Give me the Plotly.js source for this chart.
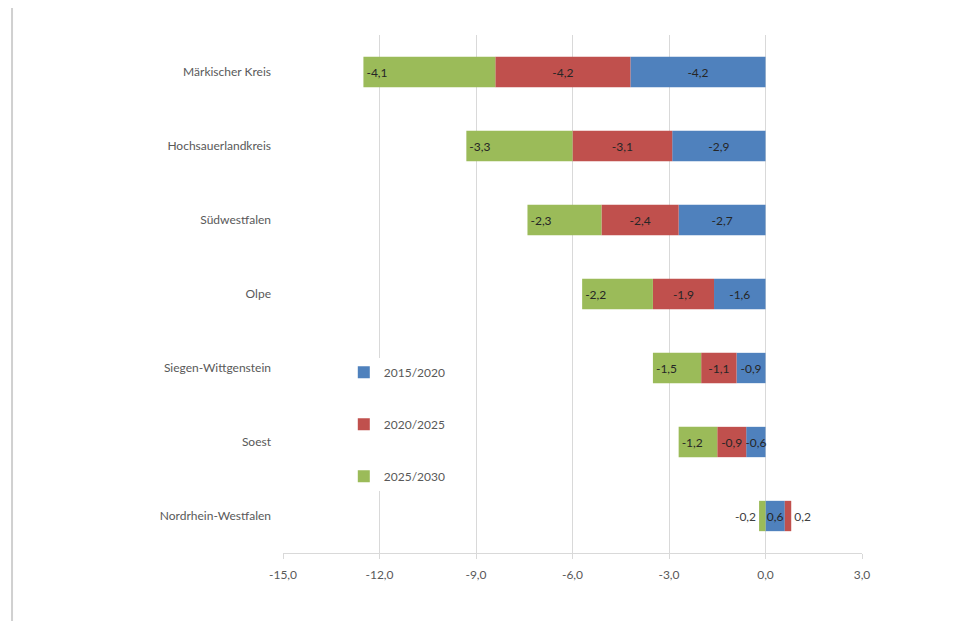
<!DOCTYPE html>
<html>
<head>
<meta charset="utf-8">
<script src="https://cdn.plot.ly/plotly-3.0.1.min.js"></script>
<style>
  html, body { margin: 0; padding: 0; background: #fff; }
  #chart { width: 958px; height: 621px; }
</style>
</head>
<body>
<div id="chart"></div>
<script>
// Data
const categories = ['Märkischer Kreis', 'Hochsauerlandkreis', 'Südwestfalen', 'Olpe', 'Siegen-Wittgenstein', 'Soest', 'Nordrhein-Westfalen'];
const seriesNames = ['2015/2020', '2020/2025', '2025/2030'];
const v2015_2020 = [-4.2, -2.9, -2.7, -1.6, -0.9, -0.6, 0.6];
const v2020_2025 = [-4.2, -3.1, -2.4, -1.9, -1.1, -0.9, 0.2];
const v2025_2030 = [-4.1, -3.3, -2.3, -2.2, -1.5, -1.2, -0.2];
const tickVals = [-15, -12, -9, -6, -3, 0, 3];
const tickLabels = ['-15,0', '-12,0', '-9,0', '-6,0', '-3,0', '0,0', '3,0'];

const colors = ['#4F81BD', '#C0504D', '#9BBB59'];
const fmt = v => v.toFixed(1).replace('.', ',');
const FONT = 'Lato, "Open Sans", sans-serif';

function mkTrace(vals, i, anchor, positions) {
  return {
    type: 'bar',
    orientation: 'h',
    name: seriesNames[i],
    y: categories,
    x: vals,
    text: vals.map(fmt),
    textposition: positions,
    insidetextanchor: anchor,
    textangle: 0,
    constraintext: 'none',
    cliponaxis: false,
    textfont: { family: FONT, size: 12, color: '#262626' },
    outsidetextfont: { family: FONT, size: 12, color: '#404040' },
    marker: { color: colors[i], line: { width: 0 } },
    legendgroup: 'g' + i,
    hoverinfo: 'x+y+name'
  };
}

const posIn = categories.map(() => 'inside');
const posLastOut = categories.map((c, k) => k === categories.length - 1 ? 'outside' : 'inside');

const data = [
  mkTrace(v2015_2020, 0, 'middle', posIn),
  mkTrace(v2020_2025, 1, 'middle', posLastOut),
  mkTrace(v2025_2030, 2, 'end', posLastOut)
];

const layout = {
  width: 958,
  height: 621,
  margin: { l: 283, r: 96, t: 35, b: 68 },
  paper_bgcolor: '#ffffff',
  plot_bgcolor: '#ffffff',
  barmode: 'relative',
  bargap: 0.59,
  font: { family: FONT, size: 12, color: '#595959' },
  showlegend: true,
  legend: {
    x: 0.105, y: 0.377, xanchor: 'left', yanchor: 'top',
    bgcolor: '#ffffff',
    traceorder: 'grouped',
    tracegroupgap: 33,
    font: { family: FONT, size: 12, color: '#595959' }
  },
  xaxis: {
    range: [-15, 3],
    tickvals: tickVals,
    ticktext: tickLabels,
    showgrid: true,
    gridcolor: '#d9d9d9',
    gridwidth: 1,
    zeroline: true,
    zerolinecolor: '#d9d9d9',
    zerolinewidth: 1,
    showline: true,
    linecolor: '#d9d9d9',
    linewidth: 1,
    ticks: 'outside',
    ticklen: 5,
    tickcolor: '#d9d9d9',
    ticklabelstandoff: 6,
    tickfont: { family: FONT, size: 12, color: '#595959' },
    fixedrange: true
  },
  yaxis: {
    type: 'category',
    categoryorder: 'array',
    categoryarray: categories,
    autorange: 'reversed',
    showgrid: false,
    zeroline: false,
    showline: false,
    ticks: '',
    ticklabelstandoff: 11,
    tickfont: { family: FONT, size: 12, color: '#595959' },
    fixedrange: true
  },
  shapes: [
    { type: 'line', xref: 'paper', yref: 'paper', x0: -0.468, x1: -0.468, y0: 1.052, y1: -0.135,
      line: { color: '#d0d0d0', width: 2 } }
  ]
};

Plotly.newPlot('chart', data, layout, { displayModeBar: false, staticPlot: true });
</script>
</body>
</html>
